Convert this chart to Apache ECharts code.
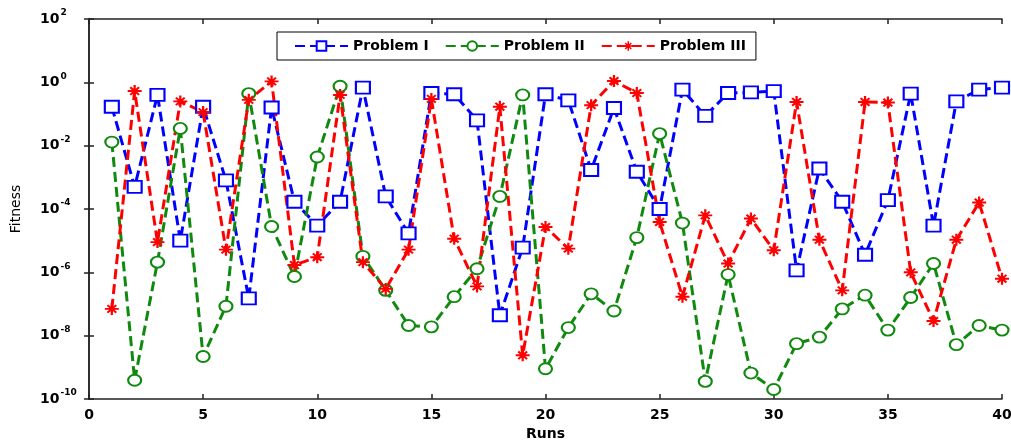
<!DOCTYPE html>
<html>
<head>
<meta charset="utf-8">
<script src="https://cdn.jsdelivr.net/npm/echarts@6/dist/echarts.min.js"></script>
<style>html,body{margin:0;padding:0;background:#fff;}#c{width:1011px;height:441px;}</style>
</head>
<body>
<div id="c"></div>
<script>
var runs = [];
for (var i = 1; i <= 40; i++) runs.push(i);
var xTicks = [0, 5, 10, 15, 20, 25, 30, 35, 40];
var yTickExponents = [-10, -8, -6, -4, -2, 0, 2];

var problemI = [0.17, 5e-4, 0.4, 1e-5, 0.17, 8e-4, 1.5e-7, 0.16, 1.7e-4, 3e-5,
  1.7e-4, 0.68, 2.5e-4, 1.7e-5, 0.46, 0.42, 0.063, 4.4e-8, 6e-6, 0.42,
  0.27, 1.7e-3, 0.155, 1.5e-3, 1e-4, 0.59, 0.087, 0.46, 0.48, 0.53,
  1.15e-6, 1.9e-3, 1.7e-4, 3.6e-6, 1.9e-4, 0.44, 3e-5, 0.25, 0.59, 0.68];
var problemII = [0.013, 3.9e-10, 2.1e-6, 0.035, 2.2e-9, 8.5e-8, 0.44, 2.8e-5, 7.4e-7, 4.4e-3,
  0.75, 3.2e-6, 2.7e-7, 2.1e-8, 1.9e-8, 1.7e-7, 1.3e-6, 2.5e-4, 0.4, 9e-10,
  1.8e-8, 2.1e-7, 6e-8, 1.25e-5, 0.024, 3.6e-5, 3.6e-10, 8.5e-7, 6.6e-10, 2e-10,
  5.6e-9, 9e-9, 7e-8, 1.9e-7, 1.5e-8, 1.6e-7, 1.9e-6, 5.2e-9, 2.1e-8, 1.5e-8];
var problemIII = [7e-8, 0.53, 9e-6, 0.25, 0.115, 5.2e-6, 0.28, 1.07, 1.7e-6, 3e-6,
  0.4, 2.1e-6, 3e-7, 5.2e-6, 0.3, 1.15e-5, 3.6e-7, 0.17, 2.4e-9, 2.7e-5,
  5.6e-6, 0.19, 1.1, 0.46, 3.9e-5, 1.7e-7, 6.3e-5, 1.9e-6, 5e-5, 5e-6,
  0.24, 1.07e-5, 2.7e-7, 0.24, 0.23, 1e-6, 2.9e-8, 1.07e-5, 1.6e-4, 6.3e-7];

function pairs(arr) { return arr.map(function (v, i) { return [runs[i], v]; }); }

var starPath = 'path://M0,4.2L10,4.2L10,5.8L0,5.8Z M4.2,0L5.8,0L5.8,10L4.2,10Z M1.3,2.4L2.4,1.3L8.7,7.6L7.6,8.7Z M7.6,1.3L8.7,2.4L2.4,8.7L1.3,7.6Z';

var FONT = 'DejaVu Sans, Liberation Sans, Arial';
var axisColor = '#222';
var chart = echarts.init(document.getElementById('c'));
var yTickValues = yTickExponents.map(function (e) { return Math.pow(10, e); });
var yMin = yTickValues[0];
var yMax = yTickValues[yTickValues.length - 1];

function yLabel(v) {
  var e = Math.round(Math.log10(v));
  return '{b|10}{s|' + e + '}';
}
var yRich = {
  b: { fontFamily: FONT, fontWeight: 'bold', fontSize: 14, color: '#000' },
  s: { fontFamily: FONT, fontWeight: 'bold', fontSize: 9, color: '#000', padding: [0, 0, 12, 1] }
};

function mkSeries(name, data, color, symbol, size, filled) {
  return {
    name: name, type: 'line', data: pairs(data),
    symbol: symbol, symbolSize: size, showSymbol: true,
    lineStyle: { color: color, width: 3, type: [10, 5] },
    itemStyle: filled ? { color: color, borderWidth: 0 } : { color: '#fff', borderColor: color, borderWidth: 2 },
    emphasis: { disabled: true },
    animation: false
  };
}

chart.setOption({
  animation: false,
  backgroundColor: '#fff',
  grid: { left: 89, right: 9, top: 19, bottom: 42, containLabel: false, outerBoundsMode: 'none' },
  legend: {
    left: 277, top: 32,
    backgroundColor: '#fff', borderColor: '#000', borderWidth: 1,
    padding: [7, 10, 7, 17], itemGap: 16, itemWidth: 53, itemHeight: 12,
    textStyle: { fontFamily: FONT, fontWeight: 'bold', fontSize: 14, color: '#000' },
    data: ['Problem I', 'Problem II', 'Problem III']
  },
  xAxis: [{
    type: 'value', min: 0, max: 40, interval: 5, position: 'bottom',
    name: 'Runs', nameLocation: 'middle', nameGap: 24,
    nameTextStyle: { fontFamily: FONT, fontWeight: 'bold', fontSize: 14, color: '#000' },
    axisLine: { show: true, lineStyle: { color: axisColor, width: 1.5 } },
    axisTick: { show: true, inside: true, length: 5, lineStyle: { color: axisColor, width: 1.5 } },
    axisLabel: { fontFamily: FONT, fontWeight: 'bold', fontSize: 14, color: '#000', margin: 9,
      customValues: xTicks },
    splitLine: { show: false }
  }, {
    type: 'value', min: 0, max: 40, interval: 5, position: 'top',
    axisLine: { show: true, lineStyle: { color: axisColor, width: 1.5 } },
    axisTick: { show: true, inside: true, length: 5, lineStyle: { color: axisColor, width: 1.5 } },
    axisLabel: { show: false }, splitLine: { show: false }
  }],
  yAxis: [{
    type: 'log', logBase: 10, min: yMin, max: yMax, position: 'left',
    name: 'Fitness', nameLocation: 'middle', nameGap: 66, nameRotate: 90,
    nameTextStyle: { fontFamily: FONT, fontSize: 14, color: '#000' },
    axisLine: { show: true, lineStyle: { color: axisColor, width: 1.5 } },
    axisTick: { show: true, inside: true, length: 5, customValues: yTickValues, lineStyle: { color: axisColor, width: 1.5 } },
    minorTick: { show: false },
    axisLabel: { formatter: yLabel, rich: yRich, margin: 49, align: 'left', customValues: yTickValues },
    splitLine: { show: false }
  }, {
    type: 'log', logBase: 10, min: yMin, max: yMax, position: 'right',
    axisLine: { show: true, lineStyle: { color: axisColor, width: 1.5 } },
    axisTick: { show: true, inside: true, length: 5, customValues: yTickValues, lineStyle: { color: axisColor, width: 1.5 } },
    axisLabel: { show: false, customValues: yTickValues }, splitLine: { show: false }
  }],
  series: [
    mkSeries('Problem I', problemI, '#0000ff', 'rect', [14, 12], false),
    mkSeries('Problem II', problemII, '#0f8a0f', 'circle', [13, 11], false),
    mkSeries('Problem III', problemIII, '#ff0000', starPath, [14, 12], true)
  ]
});
</script>
</body>
</html>
